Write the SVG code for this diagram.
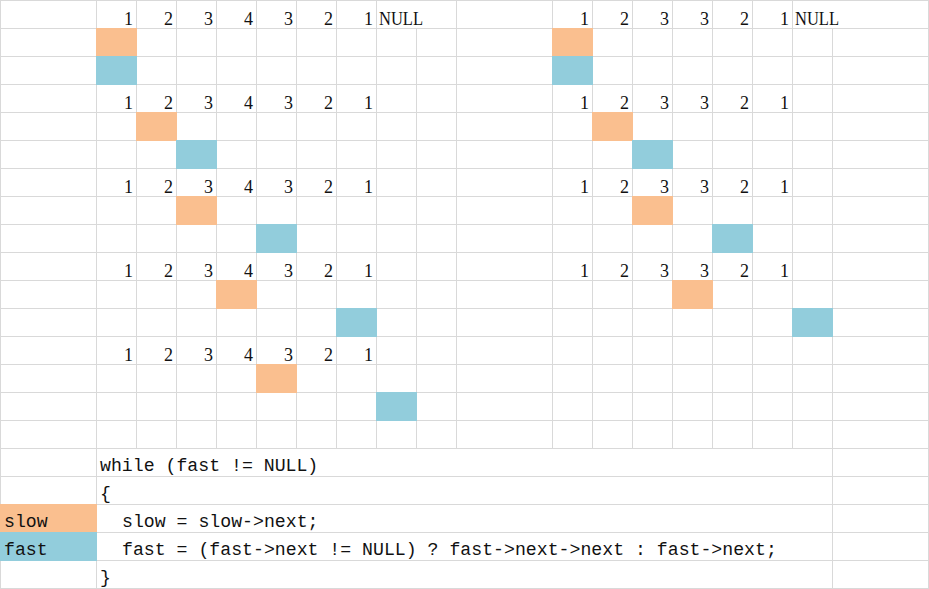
<svg xmlns="http://www.w3.org/2000/svg" width="929" height="589" viewBox="0 0 929 589">
<style>
.g{stroke:#d9d9d9;stroke-width:1;fill:none}
.o{fill:#fabf8f}
.b{fill:#92cddc}
.t{font-family:"Liberation Mono","DejaVu Sans Mono",monospace;font-size:18.2px;fill:#111}
.s{font-family:"Liberation Serif","DejaVu Serif",serif;font-size:18px;fill:#111}
.n{text-anchor:end}
</style>
<rect width="929" height="589" fill="#fff"/>
<g id="grid" class="g">
<path d="M0 0.5H929M0 28.5H929M0 56.5H929M0 84.5H929M0 112.5H929M0 140.5H929M0 168.5H929M0 196.5H929M0 224.5H929M0 252.5H929M0 280.5H929M0 308.5H929M0 336.5H929M0 364.5H929M0 392.5H929M0 420.5H929M0 448.5H929M0 476.5H929M0 504.5H929M0 532.5H929M0 560.5H929M0 588.5H929"/>
<path d="M0.5 0V589M96.5 0V589M928.5 0V589M832.5 28V589"/>
<path d="M136.5 0V448M176.5 0V448M216.5 0V448M256.5 0V448M296.5 0V448M336.5 0V448M376.5 0V448M416.5 28V448M456.5 0V448"/>
<path d="M552.5 0V448M592.5 0V448M632.5 0V448M672.5 0V448M712.5 0V448M752.5 0V448M792.5 0V448"/>
</g>
<g id="left-blocks">
<rect class="o" x="96" y="28" width="41" height="29"/>
<rect class="b" x="96" y="56" width="41" height="29"/>
<rect class="o" x="136" y="112" width="41" height="29"/>
<rect class="b" x="176" y="140" width="41" height="29"/>
<rect class="o" x="176" y="196" width="41" height="29"/>
<rect class="b" x="256" y="224" width="41" height="29"/>
<rect class="o" x="216" y="280" width="41" height="29"/>
<rect class="b" x="336" y="308" width="41" height="29"/>
<rect class="o" x="256" y="364" width="41" height="29"/>
<rect class="b" x="376" y="392" width="41" height="29"/>
</g>
<g id="right-blocks">
<rect class="o" x="552" y="28" width="41" height="29"/>
<rect class="b" x="552" y="56" width="41" height="29"/>
<rect class="o" x="592" y="112" width="41" height="29"/>
<rect class="b" x="632" y="140" width="41" height="29"/>
<rect class="o" x="632" y="196" width="41" height="29"/>
<rect class="b" x="712" y="224" width="41" height="29"/>
<rect class="o" x="672" y="280" width="41" height="29"/>
<rect class="b" x="792" y="308" width="41" height="29"/>
</g>
<g id="legend">
<rect class="o" x="0" y="504" width="97" height="29"/>
<rect class="b" x="0" y="532" width="97" height="29"/>
<text class="t" x="4" y="527">slow</text>
<text class="t" x="4" y="555">fast</text>
</g>
<g id="left-numbers" class="s n">
<text x="133" y="25">1</text><text x="173" y="25">2</text><text x="213" y="25">3</text><text x="253" y="25">4</text><text x="293" y="25">3</text><text x="333" y="25">2</text><text x="373" y="25">1</text>
<text x="133" y="109">1</text><text x="173" y="109">2</text><text x="213" y="109">3</text><text x="253" y="109">4</text><text x="293" y="109">3</text><text x="333" y="109">2</text><text x="373" y="109">1</text>
<text x="133" y="193">1</text><text x="173" y="193">2</text><text x="213" y="193">3</text><text x="253" y="193">4</text><text x="293" y="193">3</text><text x="333" y="193">2</text><text x="373" y="193">1</text>
<text x="133" y="277">1</text><text x="173" y="277">2</text><text x="213" y="277">3</text><text x="253" y="277">4</text><text x="293" y="277">3</text><text x="333" y="277">2</text><text x="373" y="277">1</text>
<text x="133" y="361">1</text><text x="173" y="361">2</text><text x="213" y="361">3</text><text x="253" y="361">4</text><text x="293" y="361">3</text><text x="333" y="361">2</text><text x="373" y="361">1</text>
</g>
<text class="s" x="379" y="25" textLength="44" lengthAdjust="spacingAndGlyphs">NULL</text>
<g id="right-numbers" class="s n">
<text x="589" y="25">1</text><text x="629" y="25">2</text><text x="669" y="25">3</text><text x="709" y="25">3</text><text x="749" y="25">2</text><text x="789" y="25">1</text>
<text x="589" y="109">1</text><text x="629" y="109">2</text><text x="669" y="109">3</text><text x="709" y="109">3</text><text x="749" y="109">2</text><text x="789" y="109">1</text>
<text x="589" y="193">1</text><text x="629" y="193">2</text><text x="669" y="193">3</text><text x="709" y="193">3</text><text x="749" y="193">2</text><text x="789" y="193">1</text>
<text x="589" y="277">1</text><text x="629" y="277">2</text><text x="669" y="277">3</text><text x="709" y="277">3</text><text x="749" y="277">2</text><text x="789" y="277">1</text>
</g>
<text class="s" x="795" y="25" textLength="44" lengthAdjust="spacingAndGlyphs">NULL</text>
<g id="code" class="t">
<text x="100" y="471">while (fast != NULL)</text>
<text x="100" y="499">{</text>
<text x="122" y="527">slow = slow-&gt;next;</text>
<text x="122" y="555">fast = (fast-&gt;next != NULL) ? fast-&gt;next-&gt;next : fast-&gt;next;</text>
<text x="100" y="583">}</text>
</g>
</svg>
